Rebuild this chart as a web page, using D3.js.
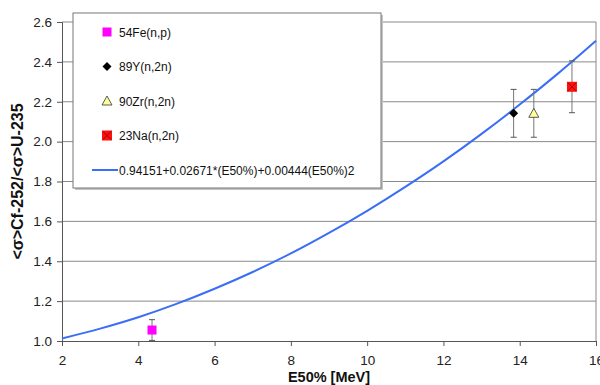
<!DOCTYPE html>
<html>
<head>
<meta charset="utf-8">
<script src="https://cdn.jsdelivr.net/npm/d3@7"></script>
<style>
  body { margin: 0; background: #fff; }
  text { font-family: Arial, "Liberation Sans", sans-serif; }
</style>
</head>
<body>
<svg id="chart" width="600" height="385"></svg>
<script>
// measured points: E50% and ratio, with error half-widths
const names = ['54Fe(n,p)', '89Y(n,2n)', '90Zr(n,2n)', '23Na(n,2n)'];
const energies = [4.36, 13.84, 14.37, 15.37];
const ratios = [1.055, 2.142, 2.142, 2.275];
const errors = [0.052, 0.12, 0.12, 0.13];

// fitted curve, sampled at each MeV
const fitE = [2, 3, 4, 5, 6, 7, 8, 9, 10, 11, 12, 13, 14, 15, 16];
const fitR = [1.013, 1.062, 1.119, 1.186, 1.262, 1.346, 1.439, 1.542, 1.653, 1.773, 1.901, 2.039, 2.186, 2.341, 2.506];
const fitLabel = '0.94151+0.02671*(E50%)+0.00444(E50%)2';

const xTicks = [2, 4, 6, 8, 10, 12, 14, 16];
const yTicks = [1.0, 1.2, 1.4, 1.6, 1.8, 2.0, 2.2, 2.4, 2.6];

const margin = { top: 22, right: 4, bottom: 44, left: 62 };
const width = 600 - margin.left - margin.right;
const height = 385 - margin.top - margin.bottom;

const svg = d3.select('#chart');
const g = svg.append('g').attr('transform', `translate(${margin.left},${margin.top})`);

const x = d3.scaleLinear().domain([2, 16]).range([0, width]);
const y = d3.scaleLinear().domain([1.0, 2.6]).range([height, 0]);

// gridlines
g.selectAll('.grid').data(yTicks.slice(1)).enter().append('line')
  .attr('class', 'grid')
  .attr('x1', 0).attr('x2', width)
  .attr('y1', d => y(d)).attr('y2', d => y(d))
  .attr('stroke', '#8a8a8a').attr('stroke-width', 1);

// right border of plot area
g.append('line').attr('x1', width).attr('x2', width).attr('y1', 0).attr('y2', height)
  .attr('stroke', '#8a8a8a');

// axes
const xAxis = g.append('g').attr('transform', `translate(0,${height})`)
  .call(d3.axisBottom(x).tickValues(xTicks).tickSize(5).tickPadding(9).tickFormat(d3.format('d')));
const yAxis = g.append('g')
  .call(d3.axisLeft(y).tickValues(yTicks).tickSize(5).tickPadding(5).tickFormat(d3.format('.1f')));
[xAxis, yAxis].forEach(a => {
  a.select('.domain').attr('stroke', '#555');
  a.selectAll('.tick line').attr('stroke', '#555');
  a.selectAll('.tick text').attr('fill', '#222').style('font-size', '13.5px');
});

// fitted curve
const line = d3.line().x((d, i) => x(fitE[i])).y(d => y(d)).curve(d3.curveMonotoneX);
g.append('path').datum(fitR).attr('d', line)
  .attr('fill', 'none').attr('stroke', '#3a6ff5').attr('stroke-width', 2);

// error bars
const bars = g.selectAll('.err').data(names).enter().append('g').attr('class', 'err');
bars.append('line')
  .attr('x1', (d, i) => x(energies[i])).attr('x2', (d, i) => x(energies[i]))
  .attr('y1', (d, i) => y(ratios[i] - errors[i])).attr('y2', (d, i) => y(ratios[i] + errors[i]))
  .attr('stroke', '#777');
[-1, 1].forEach(s => {
  bars.append('line')
    .attr('x1', (d, i) => x(energies[i]) - 3).attr('x2', (d, i) => x(energies[i]) + 3)
    .attr('y1', (d, i) => y(ratios[i] + s * errors[i])).attr('y2', (d, i) => y(ratios[i] + s * errors[i]))
    .attr('stroke', '#555');
});

// marker drawing
function marker(sel, k) {
  if (k === 0) {
    sel.append('rect').attr('x', -4.5).attr('y', -4.5).attr('width', 9).attr('height', 9).attr('fill', '#ff00ff');
  } else if (k === 1) {
    sel.append('path').attr('d', 'M0,-4.5L4.5,0L0,4.5L-4.5,0Z').attr('fill', '#000');
  } else if (k === 2) {
    sel.append('path').attr('d', 'M0,-5L5,4L-5,4Z').attr('fill', '#ffff99').attr('stroke', '#333').attr('stroke-width', 0.8);
  } else {
    sel.append('rect').attr('x', -5).attr('y', -5).attr('width', 10).attr('height', 10).attr('fill', '#ff1010');
    sel.append('path').attr('d', 'M-4,-4L4,4M4,-4L-4,4').attr('stroke', '#a00000').attr('stroke-width', 1);
  }
}

names.forEach((n, i) => {
  const m = g.append('g').attr('transform', `translate(${x(energies[i])},${y(ratios[i])})`);
  marker(m, i);
});

// legend
const lg = svg.append('g').attr('transform', 'translate(73,13)');
lg.append('rect').attr('x', 2).attr('y', 2).attr('width', 308).attr('height', 175).attr('fill', '#c4c4c4');
lg.append('rect').attr('width', 308).attr('height', 175).attr('fill', '#fff').attr('stroke', '#777');
names.forEach((n, i) => {
  const row = lg.append('g').attr('transform', `translate(34,${19 + i * 34.5})`);
  marker(row, i);
  row.append('text').attr('x', 12).attr('y', 4.5).style('font-size', '12px').attr('fill', '#111').text(n);
});
const lr = lg.append('g').attr('transform', 'translate(34,157)');
lr.append('line').attr('x1', -15).attr('x2', 11).attr('stroke', '#3a6ff5').attr('stroke-width', 2);
lr.append('text').attr('x', 12).attr('y', 4.5).style('font-size', '12px').attr('fill', '#111').text(fitLabel);

// axis titles
svg.append('text').attr('x', margin.left + width / 2).attr('y', 382)
  .attr('text-anchor', 'middle').style('font-size', '14.5px').style('font-weight', 'bold')
  .attr('fill', '#111').text('E50% [MeV]');
svg.append('text').attr('transform', `translate(23,${margin.top + height / 2}) rotate(-90)`)
  .attr('text-anchor', 'middle').style('font-size', '16px').style('font-weight', 'bold')
  .attr('fill', '#111').text('<σ>Cf-252/<σ>U-235');
</script>
</body>
</html>
